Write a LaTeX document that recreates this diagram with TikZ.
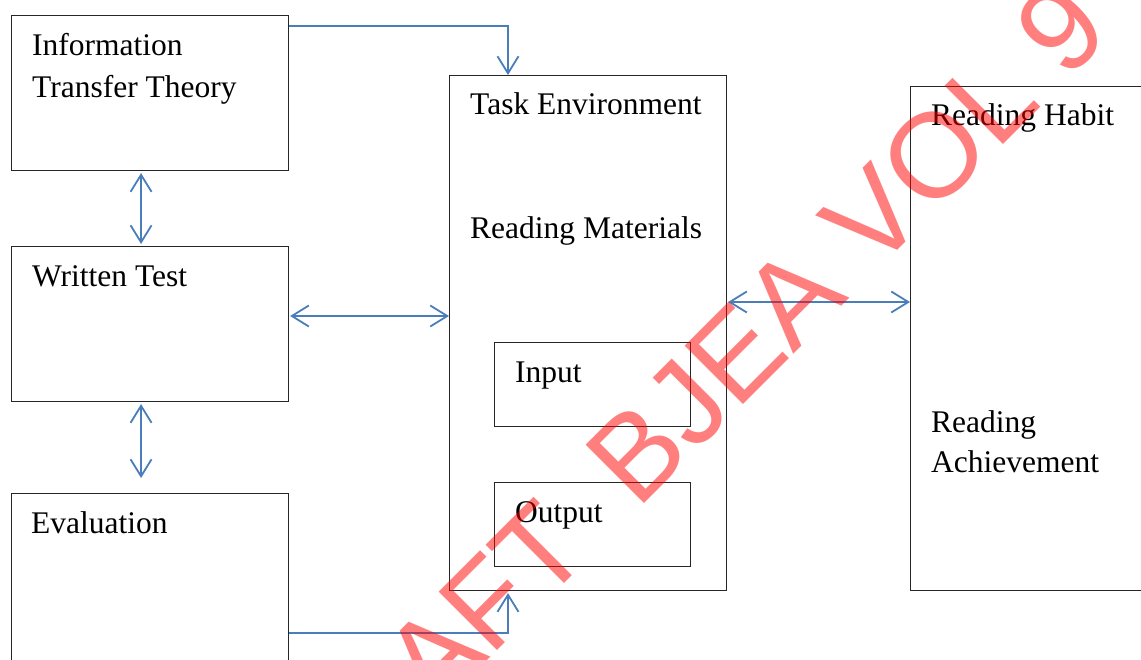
\documentclass[tikz,border=0pt]{standalone}
\usepackage{fontspec}
\setmainfont{Liberation Serif}
\newfontfamily\wmfont{Liberation Sans}
\usetikzlibrary{arrows.meta,calc}

\definecolor{linkblue}{HTML}{4A7EBB}
\definecolor{boxline}{HTML}{262626}

\tikzset{
  box/.style={draw=boxline, line width=1.1pt, inner sep=0pt, anchor=north west, fill=none},
  lbl/.style={anchor=base west, inner sep=0pt, font=\fontsize{31.5}{41}\selectfont},
  tip/.style={-{Straight Barb[length=17pt,width=21pt,line width=1.8pt]}},
  dbl/.style={draw=linkblue, line width=1.9pt,
    {Straight Barb[length=17pt,width=21pt,line width=1.8pt]}-{Straight Barb[length=17pt,width=21pt,line width=1.8pt]}},
  elbow/.style={draw=linkblue, line width=1.5pt, tip},
  wm/.style={anchor=base west, inner sep=0pt, rotate=45, text=red, text opacity=0.5,
    font=\wmfont\fontsize{120}{120}\selectfont}
}

\begin{document}
\begin{tikzpicture}[x=1pt,y=-1pt]
  \useasboundingbox (0,0) rectangle (1141,659);
  \clip (0,0) rectangle (1141,659);

  % left column
  \node[box, minimum width=277pt, minimum height=155pt] (itt) at (11,15) {};
  \node[box, minimum width=277pt, minimum height=155pt] (wt)  at (11,246) {};
  \node[box, minimum width=277pt, minimum height=200pt] (ev)  at (11,493) {};

  % task environment with its two inner boxes
  \node[box, minimum width=277pt, minimum height=515pt] (te)  at (449,75) {};
  \node[box, minimum width=196pt, minimum height=84pt]  (in)  at (494,342) {};
  \node[box, minimum width=196pt, minimum height=84pt]  (out) at (494,482) {};

  % outcome box on the right
  \node[box, minimum width=260pt, minimum height=504pt] (rh)  at (910,86) {};

  % labels
  \node[lbl] (t1) at ($(itt.north west)+(21,40)$) {Information};
  \node[lbl] (t2) at ($(itt.north west)+(21,82)$) {Transfer Theory};
  \node[lbl] (t3) at ($(wt.north west)+(21,40)$) {Written Test};
  \node[lbl] (t4) at ($(ev.north west)+(20,40)$) {Evaluation};
  \node[lbl] (t5) at ($(te.north west)+(21,39)$) {Task Environment};
  \node[lbl] (t6) at ($(te.north west)+(21,163)$) {Reading Materials};
  \node[lbl] (t7) at ($(in.north west)+(21,40)$) {Input};
  \node[lbl] (t8) at ($(out.north west)+(21,40)$) {Output};
  \node[lbl] (t9) at ($(rh.north west)+(21,39)$) {Reading Habit};
  \node[lbl] (t10) at ($(rh.north west)+(21,346)$) {Reading};
  \node[lbl] (t11) at ($(rh.north west)+(21,386)$) {Achievement};

  % connectors
  \coordinate (a1) at ($(itt.north east)+(0,11)$);
  \coordinate (a2) at ($(te.north west)+(59,0)$);
  \draw[elbow] (a1) -| (a2);

  \draw[dbl] ($(itt.south)+(-9,2)$) -- ($(wt.north)+(-9,-2)$);
  \draw[dbl] ($(wt.south)+(-9,2)$) -- ($(ev.north)+(-9,-15)$);

  \coordinate (w1) at ($(wt.north east)+(1,70)$);
  \draw[dbl] (w1) -- (w1 -| te.west);

  \coordinate (r1) at ($(te.north east)+(1,227)$);
  \draw[dbl] (r1) -- (r1 -| rh.west);

  \coordinate (e1) at ($(ev.north east)+(0,140)$);
  \coordinate (e2) at ($(te.south west)+(59,2)$);
  \draw[elbow] (e1) -| (e2);

  % watermark
  \node[wm] (mark) at (311.7,836.3) {DRAFT\hspace{61pt}BJEA VOL 9};
\end{tikzpicture}
\end{document}
